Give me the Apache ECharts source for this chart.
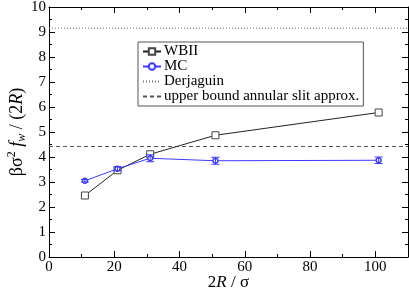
<!DOCTYPE html>
<html>
<head>
<meta charset="utf-8">
<script src="https://cdn.jsdelivr.net/npm/echarts@6/dist/echarts.min.js"></script>
<style>html,body{margin:0;padding:0;background:#fff}#c{width:409px;height:288px}</style>
</head>
<body>
<div id="c"></div>
<script>
var xVals = [11, 21, 31, 51, 101];
var wbii = [2.46, 3.47, 4.11, 4.87, 5.78];
var mc = [3.05, 3.53, 3.95, 3.85, 3.87];
var mcErr = [0.05, 0.08, 0.14, 0.14, 0.13];
var derjaguin = 9.15;
var upperBound = 4.42;
var xTicks = [0, 20, 40, 60, 80, 100];
var yTicks = [0, 1, 2, 3, 4, 5, 6, 7, 8, 9, 10];

var FONT = "'Liberation Serif', 'Times New Roman', serif";
var chart = echarts.init(document.getElementById('c'), null, {renderer: 'canvas'});

function pairs(xs, ys) { return xs.map(function (x, i) { return [x, ys[i]]; }); }

var axisCommon = {
  axisLine: {show: true, onZero: false, lineStyle: {color: '#000', width: 1}},
  axisTick: {show: true, inside: true, length: 6, lineStyle: {color: '#000'}},
  minorTick: {show: true, splitNumber: 2, length: 3, lineStyle: {color: '#000'}},
  splitLine: {show: false}
};

var hidden = {color: 'rgba(0,0,0,0)', borderColor: 'rgba(0,0,0,0)', borderWidth: 0};

var option = {
  animation: false,
  textStyle: {fontFamily: FONT},
  grid: {left: 49, right: 1, top: 7, bottom: 31, containLabel: false, outerBoundsMode: 'none'},
  xAxis: [
    Object.assign({}, axisCommon, {
      type: 'value', min: 0, max: 110, interval: 20,
      axisLabel: {color: '#000', fontSize: 15, margin: 3,
        formatter: function (v) { return xTicks.indexOf(v) >= 0 ? '{t|' + v + '}' : ''; },
        rich: {t: {fontFamily: FONT, fontSize: 15, color: '#000'}}},
      name: '{n|2}{i|R}{n| / σ}', nameLocation: 'middle', nameGap: 17, nameMoveOverlap: false,
      nameTextStyle: {verticalAlign: 'top', rich: {n: {fontFamily: FONT, fontSize: 17, color: '#000'}, i: {fontFamily: FONT, fontSize: 17, fontStyle: 'italic', color: '#000'}}}
    }),
    Object.assign({}, axisCommon, {
      type: 'value', min: 0, max: 110, interval: 20, position: 'top',
      axisLabel: {show: false}
    })
  ],
  yAxis: [
    Object.assign({}, axisCommon, {
      type: 'value', min: 0, max: 10, interval: 1,
      axisLabel: {color: '#000', fontSize: 15, margin: 3,
        formatter: function (v) { return yTicks.indexOf(v) >= 0 ? '{t|' + v + '}' : ''; },
        rich: {t: {fontFamily: FONT, fontSize: 15, color: '#000'}}},
      name: '{n|βσ}{sup|2}{n| }{i|f}{sub|w}{n| / (2}{i|R}{n|)}', nameLocation: 'middle', nameGap: 21, nameRotate: 90, nameMoveOverlap: false,
      nameTextStyle: {rich: {
        n: {fontFamily: FONT, fontSize: 18, color: '#000', lineHeight: 22, verticalAlign: 'middle'},
        i: {fontFamily: FONT, fontSize: 18, fontStyle: 'italic', color: '#000', lineHeight: 22, verticalAlign: 'middle'},
        sup: {fontFamily: FONT, fontSize: 12, color: '#000', lineHeight: 22, verticalAlign: 'top'},
        sub: {fontFamily: FONT, fontSize: 12, fontStyle: 'italic', color: '#000', lineHeight: 22, verticalAlign: 'bottom'}
      }}
    }),
    Object.assign({}, axisCommon, {
      type: 'value', min: 0, max: 10, interval: 1, position: 'right',
      axisLabel: {show: false}
    })
  ],
  legend: {
    orient: 'vertical', left: 138, top: 42,
    backgroundColor: '#fff', borderColor: '#555', borderWidth: 1, borderRadius: 0,
    padding: [2, 4, 2, 4], itemGap: 0, itemWidth: 18, itemHeight: 8,
    formatter: function (n) { return '{t|' + n + '}'; },
    textStyle: {color: '#000', padding: [0, 0, 0, -2],
      rich: {t: {fontFamily: FONT, fontSize: 15, color: '#000', lineHeight: 14}}},
    data: [
      {name: 'WBII'},
      {name: 'MC'},
      {name: 'Derjaguin', itemStyle: hidden},
      {name: 'upper bound annular slit approx.', itemStyle: hidden}
    ]
  },
  series: [
    {
      name: 'Derjaguin', type: 'line', symbol: 'none',
      data: [[0, derjaguin], [110, derjaguin]],
      lineStyle: {color: '#777', width: 1, type: [1, 2]},
      itemStyle: {color: '#777'}, z: 1
    },
    {
      name: 'upper bound annular slit approx.', type: 'line', symbol: 'none',
      data: [[0, upperBound], [110, upperBound]],
      lineStyle: {color: '#555', width: 1, type: [4, 3]},
      itemStyle: {color: '#555'}, z: 1
    },
    {
      name: 'WBII', type: 'line', data: pairs(xVals, wbii),
      symbol: 'rect', symbolSize: 7,
      lineStyle: {color: '#222', width: 1},
      itemStyle: {color: '#fff', borderColor: '#444', borderWidth: 1},
      z: 3
    },
    {
      name: 'MC', type: 'line', data: pairs(xVals, mc),
      symbol: 'circle', symbolSize: 5,
      lineStyle: {color: '#3a3aff', width: 1},
      itemStyle: {color: '#fff', borderColor: '#3a3aff', borderWidth: 1.5},
      z: 4
    },
    {
      name: 'MC', type: 'custom',
      data: xVals.map(function (x, i) { return [x, mc[i] - mcErr[i], mc[i] + mcErr[i]]; }),
      renderItem: function (params, api) {
        var lo = api.coord([api.value(0), api.value(1)]);
        var hi = api.coord([api.value(0), api.value(2)]);
        var w = 4;
        var st = {stroke: '#3a3aff', lineWidth: 1};
        return {type: 'group', children: [
          {type: 'line', shape: {x1: lo[0], y1: lo[1], x2: hi[0], y2: hi[1]}, style: st},
          {type: 'line', shape: {x1: lo[0] - w, y1: lo[1], x2: lo[0] + w, y2: lo[1]}, style: st},
          {type: 'line', shape: {x1: hi[0] - w, y1: hi[1], x2: hi[0] + w, y2: hi[1]}, style: st}
        ]};
      },
      z: 5
    }
  ]
};
chart.setOption(option);
</script>
</body>
</html>
